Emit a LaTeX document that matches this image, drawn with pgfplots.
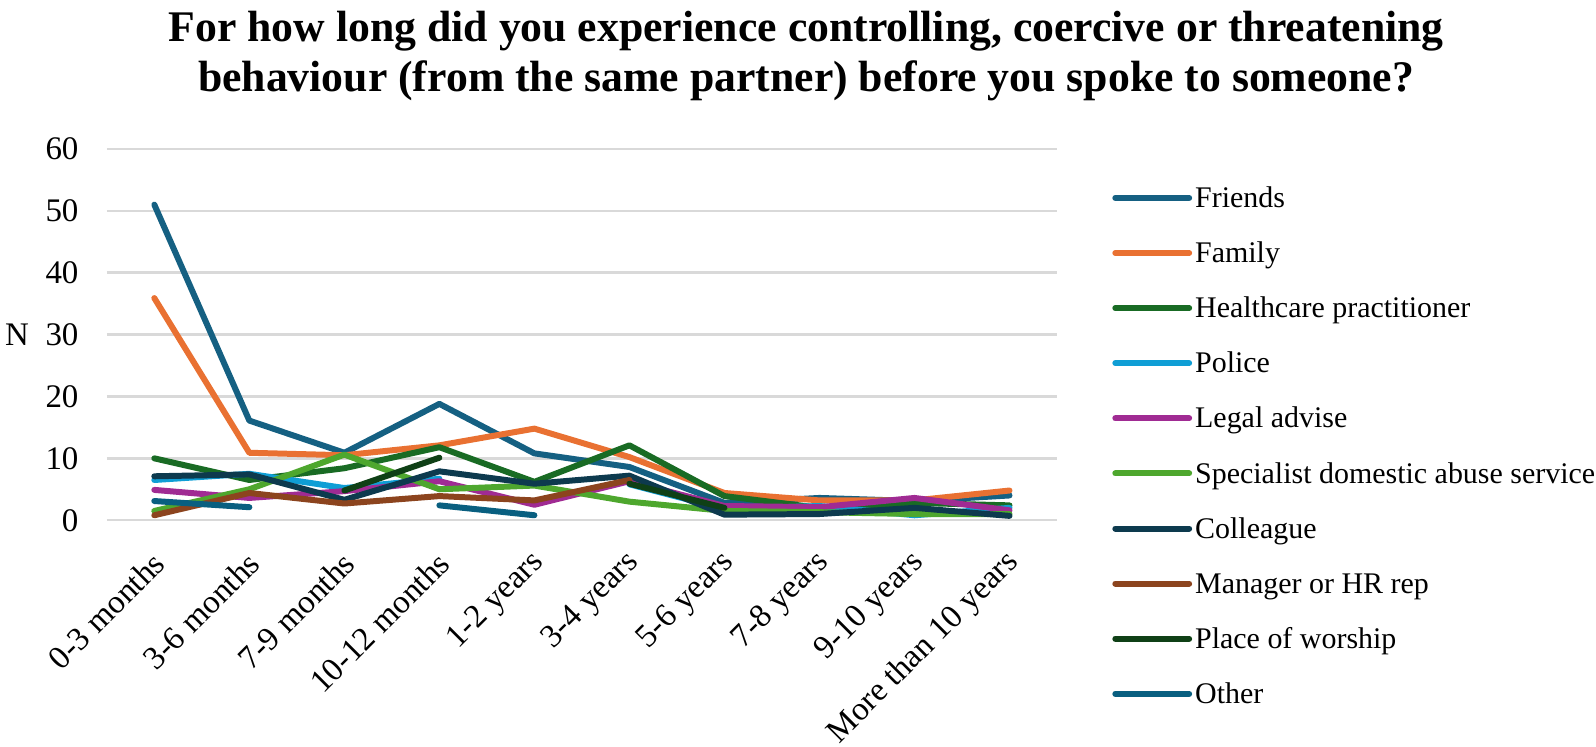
\documentclass[border=0pt]{standalone}
\usepackage{pgfplots}
\pgfplotsset{compat=1.18}
\usepackage{pgfplotstable}
\usepackage{fontspec}
\setmainfont{Liberation Serif}

\definecolor{cFriends}{HTML}{156082}
\definecolor{cFamily}{HTML}{E97132}
\definecolor{cHealth}{HTML}{196B24}
\definecolor{cPolice}{HTML}{0F9ED5}
\definecolor{cLegal}{HTML}{A02B93}
\definecolor{cSpec}{HTML}{4EA72E}
\definecolor{cColl}{HTML}{0D3A4E}
\definecolor{cManager}{HTML}{8C441E}
\definecolor{cWorship}{HTML}{0F4016}
\definecolor{cOther}{HTML}{095F80}
\definecolor{cGrid}{HTML}{D9D9D9}

% x: 0-3m, 3-6m, 7-9m, 10-12m, 1-2y, 3-4y, 5-6y, 7-8y, 9-10y, >10y
\pgfplotstableread{
x friends family health police legal spec coll manager worship other
0 51.0 35.9 10.0 6.5 4.9 1.5 7.1 0.8 nan 3.1
1 16.1 10.9 6.5 7.5 3.6 5.0 7.4 4.4 nan 2.1
2 10.9 10.5 8.4 5.2 4.7 10.6 3.3 2.7 4.8 nan
3 18.8 12.1 11.8 6.7 6.3 5.0 7.9 3.9 10.1 2.4
4 10.8 14.8 6.2 nan 2.5 5.6 5.9 3.2 nan 0.8
5 8.6 10.2 12.1 5.8 6.3 3.0 7.2 6.5 5.9 nan
6 2.8 4.4 3.9 1.8 2.3 1.5 0.9 nan 2.0 nan
7 3.6 3.2 2.0 2.3 2.1 1.3 1.0 nan nan nan
8 3.1 3.2 2.8 0.8 3.6 1.0 2.0 nan nan nan
9 4.0 4.8 2.4 2.0 1.6 1.0 0.7 nan nan nan
}\datatable

\newcommand{\legentry}[1]{\addlegendentry{\strut #1}}

\begin{document}
\begin{tikzpicture}
\begin{axis}[
    name=ax,
    scale only axis,
    width=476pt, height=186pt,
    xmin=-0.5, xmax=9.5,
    ymin=0, ymax=60,
    ytick={0,10,20,30,40,50,60},
    xtick={0,...,9},
    xticklabels={0-3 months,3-6 months,7-9 months,10-12 months,1-2 years,3-4 years,5-6 years,7-8 years,9-10 years,More than 10 years},
    axis line style={draw=none},
    major tick length=0pt,
    ymajorgrids=true,
    grid style={cGrid, line width=1.2pt},
    unbounded coords=jump,
    /pgf/number format/assume math mode=true,
    tick label style={font=\fontsize{16.5}{18}\selectfont},
    yticklabel style={inner sep=0pt, xshift=-14pt},
    xticklabel style={xshift=2.5pt, yshift=-18.8pt, rotate=45, anchor=east, inner sep=0pt},
    ylabel={N},
    ylabel style={font=\fontsize{16.5}{18}\selectfont, rotate=-90, at={(axis description cs:0,0.5)}, anchor=center, xshift=-45pt},
    every axis title shift=0pt,
    title={For how long did you experience controlling, coercive or threatening\\behaviour (from the same partner) before you spoke to someone?},
    title style={font=\fontsize{21.9}{25}\selectfont\bfseries, align=center, at={(axis description cs:0.736,1)}, anchor=south, inner xsep=0pt, inner ysep=5pt, yshift=19pt},
    legend style={draw=none, fill=none, at={(axis description cs:1,1)}, anchor=north west, xshift=27.5pt, yshift=-16.5pt, inner sep=0pt,
        font=\fontsize{15}{16}\selectfont, row sep=11.9pt, legend cell align=left,
        nodes={inner sep=1.5pt}},
    legend image code/.code={\draw[#1, line width=3pt, line cap=round] (0pt,0pt) -- (37pt,0pt);},
    every axis plot/.append style={line width=3pt, line join=round, line cap=round},
]
\addplot[cFriends] table[x=x, y=friends] {\datatable};
\legentry{Friends}
\addplot[cFamily] table[x=x, y=family] {\datatable};
\legentry{Family}
\addplot[cHealth] table[x=x, y=health] {\datatable};
\legentry{Healthcare practitioner}
\addplot[cPolice] table[x=x, y=police] {\datatable};
\legentry{Police}
\addplot[cLegal] table[x=x, y=legal] {\datatable};
\legentry{Legal advise}
\addplot[cSpec] table[x=x, y=spec] {\datatable};
\legentry{Specialist domestic abuse service}
\addplot[cColl] table[x=x, y=coll] {\datatable};
\legentry{Colleague}
\addplot[cManager] table[x=x, y=manager] {\datatable};
\legentry{Manager or HR rep}
\addplot[cWorship] table[x=x, y=worship] {\datatable};
\legentry{Place of worship}
\addplot[cOther] table[x=x, y=other] {\datatable};
\legentry{Other}
\end{axis}
% page frame: same margins round the axis as in the reference
\pgfresetboundingbox
\path[use as bounding box] ([xshift=-53.5pt, yshift=-113.5pt]ax.south west) rectangle ([xshift=270pt, yshift=74.6pt]ax.north east);
\end{tikzpicture}
\end{document}
